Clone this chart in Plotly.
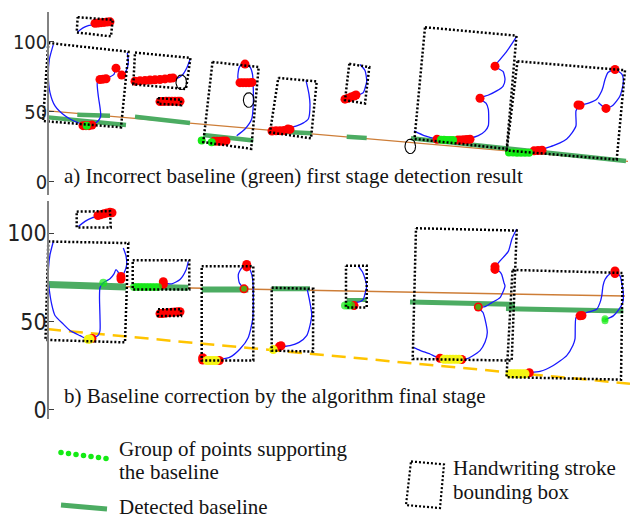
import numpy as np
import plotly.graph_objects as go

# ---------------------------------------------------------------
# Panel a: first-stage baseline detection
# ---------------------------------------------------------------
a_ticks = [0, 50, 100]

# regression line through all candidate points
a_orange_x = [0, 580]
a_orange_y = [50.6, 14.4]

# detected (incorrect) baseline segments: (x0, x1), (y0, y1)
a_base_x = [(0.3, 78), (29.3, 62), (87, 142), (155.3, 205.3), (223.7, 263.7), (298.7, 318.7), (363, 578)]
a_base_y = [(45.9, 40.4), (47.7, 47.0), (46.3, 41.8), (33.3, 29.3), (36.0, 34.5), (32.1, 31.2), (30.9, 14.7)]

# stroke bounding boxes (TL, TR, BR, BL)
a_box_x = [
    [29.7, 64.7, 63.0, 28.7],
    [0.3, 80.5, 73.0, -5.0],
    [87.0, 142.5, 138.0, 85.3],
    [110.0, 133.0, 133.0, 110.0],
    [164.5, 210.7, 203.2, 155.3],
    [230.3, 268.7, 263.0, 222.0],
    [301.3, 321.3, 317.0, 297.0],
    [377.0, 468.5, 458.7, 366.5],
    [469.5, 577.0, 568.7, 458.7],
]
a_box_y = [
    [117.5, 115.6, 103.8, 106.6],
    [99.1, 92.8, 38.8, 43.3],
    [92.2, 88.4, 66.2, 69.5],
    [59.6, 58.5, 54.6, 55.7],
    [85.5, 81.9, 23.4, 28.2],
    [74.1, 71.6, 30.9, 35.2],
    [84.2, 81.8, 55.8, 58.2],
    [110.3, 104.3, 23.4, 30.5],
    [86.0, 79.6, 15.7, 22.2],
]

# pen trajectories
a_stroke_x = [
    [29.3, 33, 37, 41, 45.3, 47, 55, 62],
    [79.3, 80.3, 78.0, 74.7, 71.0, 68.0, 66.0, 60.3, 55.3, 52.0, 49.3, 50.3, 52.0, 52.7, 50.3, 45.3, 38.7,
     33.7, 25.3, 17.0, 7.0, 2.0, 0.3, 1.3, 5.3],
    [142, 139, 134, 128, 125.3, 110, 95, 87],
    [188.7, 197, 203.7, 205.3, 205.3, 204.5, 202, 197, 192, 190.3, 190.3, 195],
    [258, 261, 262, 260.3, 255, 248.7, 241, 232, 224],
    [312, 317, 318.7, 317, 315.3, 310, 305.3, 298],
    [468.7, 464, 458.7, 452, 447, 455, 457, 455, 448.7, 440, 432, 438, 440.3, 440.3, 437, 430.3, 422, 412,
     402, 389, 377, 366],
    [550.3, 558, 565, 572, 575.3, 574, 567, 560, 557, 555, 553.7, 548.7, 542, 537, 532, 528, 528, 524,
     518.7, 512, 505.3, 497, 492, 480, 462],
]
a_stroke_y = [
    [106.6, 108.9, 110.6, 111.6, 112.1, 113.1, 113.7, 114.2],
    [92.0, 84.9, 78.9, 76.6, 78.7, 81.1, 76.6, 74.3, 73.0, 73.0, 70.7, 61.2, 53.0, 47.0, 43.5, 41.1, 39.9,
     41.1, 43.5, 47.0, 54.1, 63.6, 75.4, 87.2, 97.9],
    [87.2, 81.6, 75.9, 73.4, 73.0, 72.8, 72.3, 71.8],
    [32.8, 37.6, 44.7, 55.3, 66.0, 76.6, 81.9, 84.0, 82.6, 78.7, 73.0, 70.7],
    [72.3, 62.4, 55.3, 44.7, 41.8, 39.9, 38.3, 36.4, 36.2],
    [83.7, 79.4, 71.8, 66.7, 63.6, 61.7, 60.5, 59.0],
    [103.8, 98.6, 93.1, 87.2, 82.5, 78.7, 73.0, 68.1, 64.8, 61.7, 59.6, 56.0, 51.8, 39.9, 36.1, 32.8, 30.9,
     29.3, 29.8, 30.5, 32.6, 36.2],
    [56.5, 52.3, 54.6, 61.2, 70.7, 76.6, 80.1, 78.0, 73.0, 67.4, 64.8, 58.9, 56.4, 55.3, 54.6, 50.6, 39.9,
     34.8, 30.5, 27.7, 25.7, 23.8, 22.7, 21.5, 20.6],
]

# characteristic points of the strokes
a_red_x = [47, 50, 53, 56, 59, 62,
           73.7, 68, 52, 55, 58, 35, 38, 41, 44,
           87, 92, 97, 102, 107, 112, 117, 122, 125,
           112, 115, 118, 121, 124, 127, 130, 132,
           197, 192, 195, 198, 201, 204, 166, 169, 172, 175, 178,
           224, 228, 232, 236, 240, 242,
           297, 300, 303, 306, 308,
           447, 432, 389, 410, 413, 416, 419, 422,
           558, 567, 532, 530, 486, 490, 494]
a_red_y = [113.1, 113.3, 113.6, 113.8, 114.0, 114.2,
           76.1, 81.1, 73.0, 73.2, 73.5, 40.0, 40.0, 40.0, 40.4,
           71.8, 72.1, 72.3, 72.6, 72.8, 73.0, 73.4, 73.8, 74.1,
           57.2, 57.3, 57.4, 57.4, 57.5, 57.5, 57.4, 57.4,
           84.0, 70.7, 70.7, 70.7, 70.7, 70.9, 28.9, 28.9, 28.9, 29.0, 29.1,
           36.2, 36.3, 36.4, 36.6, 37.6, 37.3,
           58.9, 59.6, 60.4, 61.2, 61.9,
           82.5, 59.6, 30.3, 29.8, 29.8, 29.9, 30.1, 30.3,
           52.3, 80.1, 54.6, 54.8, 22.0, 22.2, 22.4]

# points supporting the detected baseline
a_sup_x = [38.7, 153.7, 163.7, 393, 396, 399, 402, 405, 461, 465, 469, 473, 477, 481]
a_sup_y = [40.0, 29.3, 28.2, 29.9, 29.9, 29.8, 29.8, 29.8, 20.8, 20.8, 20.7, 20.7, 20.6, 20.6]

# rejected candidate locations (open ellipses)
a_ring_x = [133.3, 200.7, 362.3]
a_ring_y = [71.0, 58.3, 25.2]
a_ring_rx = 5.3
a_ring_ry = 5.2

# ---------------------------------------------------------------
# Panel b: baseline correction, final stage
# ---------------------------------------------------------------
b_ticks = [0, 50, 100]

b_orange_x = [0, 577]
b_orange_y = [70.5, 64.4]

b_yellow_x = [-1, 582]
b_yellow_y = [45.7, 14.8]

b_base_x = [(0.3, 78), (84.7, 140.3), (153.7, 200.3), (223.7, 262), (298.7, 318.7), (362, 467), (458, 575.3)]
b_base_y = [(71.0, 69.6), (69.8, 69.1), (68.1, 68.1), (68.5, 68.5), (62.2, 62.2), (61.1, 59.7), (57.3, 56.0)]
b_base_w = [7, 6, 6, 5, 4, 5, 5]

b_box_x = [
    [28.7, 62.0, 62.7, 28.7],
    [0.3, 80.3, 77.0, -2.5],
    [84.7, 141.3, 141.3, 84.7],
    [110.0, 133.0, 133.0, 110.0],
    [153.7, 205.3, 205.3, 153.7],
    [223.7, 265.3, 265.0, 223.7],
    [298.0, 318.7, 318.7, 298.0],
    [368.0, 468.7, 463.7, 364.7],
    [464.5, 574.5, 573.0, 458.5],
]
b_box_y = [
    [112.2, 112.5, 103.2, 103.2],
    [95.3, 94.4, 38.2, 39.6],
    [84.7, 84.7, 68.1, 68.1],
    [57.0, 57.0, 53.1, 53.1],
    [81.3, 81.3, 27.9, 27.9],
    [69.1, 68.5, 33.0, 33.5],
    [81.6, 81.6, 57.9, 57.9],
    [102.8, 101.5, 27.9, 28.8],
    [79.2, 77.5, 17.1, 18.5],
]

b_stroke_x = [
    [30.3, 37, 44, 48.7, 52, 58, 63],
    [75.3, 78, 78.5, 76, 73, 70, 68, 66, 62, 55.3, 52, 51.5, 52, 52, 50, 47, 40, 32, 22, 15.3, 7, 3.7, 1,
     0.3, 0.5, 2, 5.3],
    [140.3, 138, 132, 123.7, 115.3],
    [154.7, 165, 172, 182, 192, 200.3, 204.7, 205.3, 204.7, 202.7, 198.7, 193.7, 190.3, 191.3, 196],
    [259.3, 261, 263.7, 262, 258.7, 251, 242, 234, 231.3, 225],
    [310.3, 315, 318.7, 317, 315.3, 312, 307, 298],
    [468.7, 464, 460.3, 452, 447, 452, 453.7, 456, 457, 452, 443.7, 437, 430.3, 435, 437, 439.3, 437, 432,
     424, 418.7, 413.7, 392, 387, 382, 372, 365.3],
    [462, 481.3, 492, 505.3, 518.7, 525, 527, 528, 532, 538.7, 548.7, 552, 553.7, 555, 557, 562, 567, 572,
     573.7, 575.3, 574.7, 570, 565.3, 557],
]
b_stroke_y = [
    [103.8, 106.7, 108.7, 109.4, 110.7, 111.2, 111.7],
    [91.6, 87.1, 81.5, 77.5, 74.7, 78.1, 79.4, 77.0, 74.2, 71.9, 69.1, 63.5, 52.2, 44.9, 42.1, 41.0, 39.9,
     42.0, 44.9, 48.5, 53.4, 59.7, 69.1, 72.9, 80.3, 87.8, 95.3],
    [84.1, 79.2, 73.8, 71.3, 71.9],
    [28.8, 27.9, 28.5, 29.8, 34.4, 41.0, 51.3, 60.7, 73.8, 78.5, 81.6, 80.3, 76.6, 71.9, 68.5],
    [68.1, 63.5, 54.1, 47.8, 42.0, 38.2, 36.3, 35.7, 35.4, 34.1],
    [81.3, 77.5, 70.1, 65.7, 62.5, 61.2, 60.7, 59.0],
    [102.4, 96.9, 89.7, 84.3, 80.3, 78.1, 76.6, 71.9, 70.1, 63.5, 60.7, 58.4, 57.9, 55.1, 51.3, 43.8, 38.2,
     33.5, 30.3, 28.8, 28.5, 29.2, 30.3, 31.6, 33.7, 35.4],
    [20.4, 21.0, 21.7, 25.1, 30.7, 36.5, 40.1, 52.2, 53.2, 55.1, 56.9, 60.7, 64.4, 70.2, 73.8, 77.0, 77.9,
     75.8, 71.9, 66.3, 60.7, 56.2, 53.2, 51.0],
]

b_red_x = [50, 53, 56, 59, 62, 64,
           73, 73, 44,
           115.3, 115.3,
           112, 115, 118, 121, 124, 127, 130, 132,
           198.7, 198.7, 196, 154.7, 154.7, 171.3,
           231.3, 233,
           306,
           447, 447, 430.3, 392, 413.7,
           481.3, 532, 534, 567, 567]
b_red_y = [110.0, 110.5, 111.0, 111.5, 111.8, 111.6,
           75.5, 74.0, 40.4,
           72.5, 71.0,
           54.5, 54.6, 54.8, 55.0, 55.2, 55.4, 55.5, 55.5,
           82.3, 80.9, 68.5, 29.5, 28.2, 27.9,
           35.8, 36.3,
           59.0,
           81.0, 79.5, 58.2, 29.2, 28.5,
           21.0, 53.2, 53.4, 78.6, 77.2]

b_sup_x = [55.3, 86, 89, 92, 95, 98, 101, 104, 107, 110, 196, 297, 300, 303, 430.3, 557, 557]
b_sup_y = [71.9, 69.6, 69.6, 69.6, 69.6, 69.6, 69.6, 69.6, 69.6, 69.6, 68.5, 59.0, 59.0, 59.0, 58.2, 51.6, 50.4]
b_sup_size = [8, 8, 8, 8, 8, 8, 8, 8, 8, 8, 6, 8, 8, 8, 6, 7, 7]

# points of the lower (corrected) baseline
b_low_x = [40, 42, 159, 162, 165, 168, 225.3, 396, 399, 402, 405, 408, 411, 462, 465, 468, 471, 474, 477]
b_low_y = [39.9, 40.1, 27.9, 27.9, 27.9, 27.9, 34.1, 28.6, 28.6, 28.6, 28.6, 28.6, 28.6, 20.4, 20.4, 20.4,
           20.4, 20.4, 20.4]

# ---------------------------------------------------------------
# colours and styles
# ---------------------------------------------------------------
BLUE = "rgb(25,25,255)"
RED = "rgb(255,0,0)"
LIME = "rgb(20,235,20)"
GREEN = "rgb(76,172,98)"
ORANGE = "rgb(205,125,55)"
GOLD = "rgb(255,196,0)"
YELLOW = "rgb(245,245,20)"
BOX_DASH = "2px,2px"
SERIF = "Liberation Serif, Times New Roman, serif"
NARROW = "Liberation Sans Narrow, Arial Narrow, DejaVu Sans Condensed, sans-serif"


def joined(xgroups, ygroups, close=False):
    xs, ys = [], []
    for gx, gy in zip(xgroups, ygroups):
        gx, gy = list(gx), list(gy)
        if close:
            gx, gy = gx + gx[:1], gy + gy[:1]
        xs += gx + [None]
        ys += gy + [None]
    return xs, ys


def rings(cx, cy, rx, ry):
    t = np.linspace(0, 2 * np.pi, 41)
    xs, ys = [], []
    for x0, y0 in zip(cx, cy):
        xs += list(x0 + rx * np.cos(t)) + [None]
        ys += list(y0 + ry * np.sin(t)) + [None]
    return xs, ys


fig = go.Figure()


def line(x, y, ax, color, width, dash=None, shape="linear"):
    fig.add_trace(go.Scatter(x=x, y=y, mode="lines", xaxis=ax[0], yaxis=ax[1], hoverinfo="skip",
                             line=dict(color=color, width=width, dash=dash, shape=shape, smoothing=0.6)))


def dots(x, y, ax, color, size):
    fig.add_trace(go.Scatter(x=x, y=y, mode="markers", xaxis=ax[0], yaxis=ax[1], hoverinfo="skip",
                             marker=dict(color=color, size=size, line=dict(width=0))))


AX_A = ("x", "y")
AX_B = ("x2", "y2")
AX_L = ("x3", "y3")

# ----- panel a -----
line(a_orange_x, a_orange_y, AX_A, ORANGE, 1.3)
bx, by = joined(a_base_x, a_base_y)
line(bx, by, AX_A, GREEN, 4.5)
sx, sy = joined(a_stroke_x, a_stroke_y)
line(sx, sy, AX_A, BLUE, 1.3, shape="spline")
dots(a_red_x, a_red_y, AX_A, RED, 9)
dots(a_sup_x, a_sup_y, AX_A, LIME, 8)
rx, ry = rings(a_ring_x, a_ring_y, a_ring_rx, a_ring_ry)
line(rx, ry, AX_A, "black", 1.1)
qx, qy = joined(a_box_x, a_box_y, close=True)
line(qx, qy, AX_A, "black", 2.5, dash=BOX_DASH)

# ----- panel b -----
line(b_orange_x, b_orange_y, AX_B, ORANGE, 1.5)
line(b_yellow_x, b_yellow_y, AX_B, GOLD, 2.5, dash="14px,8px")
for (x0, x1), (y0, y1), w in zip(b_base_x, b_base_y, b_base_w):
    line([x0, x1], [y0, y1], AX_B, GREEN, w)
sx, sy = joined(b_stroke_x, b_stroke_y)
line(sx, sy, AX_B, BLUE, 1.3, shape="spline")
dots(b_red_x, b_red_y, AX_B, RED, 9)
dots(b_low_x, b_low_y, AX_B, YELLOW, 9)
fig.add_trace(go.Scatter(x=b_sup_x, y=b_sup_y, mode="markers", xaxis="x2", yaxis="y2", hoverinfo="skip",
                         marker=dict(color=LIME, size=b_sup_size, line=dict(width=0))))
qx, qy = joined(b_box_x, b_box_y, close=True)
line(qx, qy, AX_B, "black", 2.5, dash=BOX_DASH)

# ----- key -----
key_dot_x = [61, 68.5, 76, 83.5, 91, 98.5, 106]
key_dot_y = [456, 457, 458, 459, 460, 461, 462]
dots(key_dot_x, key_dot_y, AX_L, LIME, 5.5)
line([61, 107], [509, 513], AX_L, GREEN, 5)
kx, ky = joined([[411, 444, 440, 406]], [[465, 468, 512, 509]], close=True)
line(kx, ky, AX_L, "black", 2.2, dash=BOX_DASH)

yaxis_common = dict(
    anchor="free", position=48 / 630, showgrid=False, zeroline=False, showline=True,
    linecolor="rgb(130,130,130)", linewidth=1.5, ticks="inside", ticklen=5, tickwidth=1.3,
    tickcolor="rgb(60,60,60)", ticklabelstandoff=-4,
)
hidden_x = dict(visible=False, showgrid=False, zeroline=False, fixedrange=True)

fig.update_layout(
    width=630, height=520, margin=dict(l=0, r=0, t=0, b=0),
    paper_bgcolor="white", plot_bgcolor="rgba(0,0,0,0)", showlegend=False,
    xaxis=dict(domain=[0, 1], range=[-48, 582], anchor="y", **hidden_x),
    yaxis=dict(domain=[1 - 197 / 520, 1 - 12 / 520], range=[-9.93, 121.28], tickvals=a_ticks,
               tickfont=dict(family=NARROW, size=20, color="#222"), **yaxis_common),
    xaxis2=dict(domain=[0, 1], range=[-48, 582], anchor="y2", **hidden_x),
    yaxis2=dict(domain=[1 - 422 / 520, 1 - 203 / 520], range=[-5.06, 117.98], tickvals=b_ticks,
                tickfont=dict(family=NARROW, size=23, color="#222"), **yaxis_common),
    xaxis3=dict(domain=[0, 1], range=[0, 630], anchor="y3", **hidden_x),
    yaxis3=dict(domain=[0, 0.15], range=[520, 442], anchor="x3", visible=False, fixedrange=True),
)

captions = [
    ("a) Incorrect baseline (green) first stage detection result", 62, 177),
    ("b) Baseline correction by the algorithm final stage", 62, 399),
    ("Group of points supporting", 117, 452),
    ("the baseline", 117, 476),
    ("Detected baseline", 117, 511),
    ("Handwriting stroke", 451, 472),
    ("bounding box", 451, 496),
]
for text, px, py in captions:
    fig.add_annotation(text=text, x=px / 630, y=1 - py / 520, xref="paper", yref="paper",
                       xanchor="left", yanchor="middle", showarrow=False,
                       font=dict(family=SERIF, size=21, color="#141414"))

fig.write_html("out.html")
